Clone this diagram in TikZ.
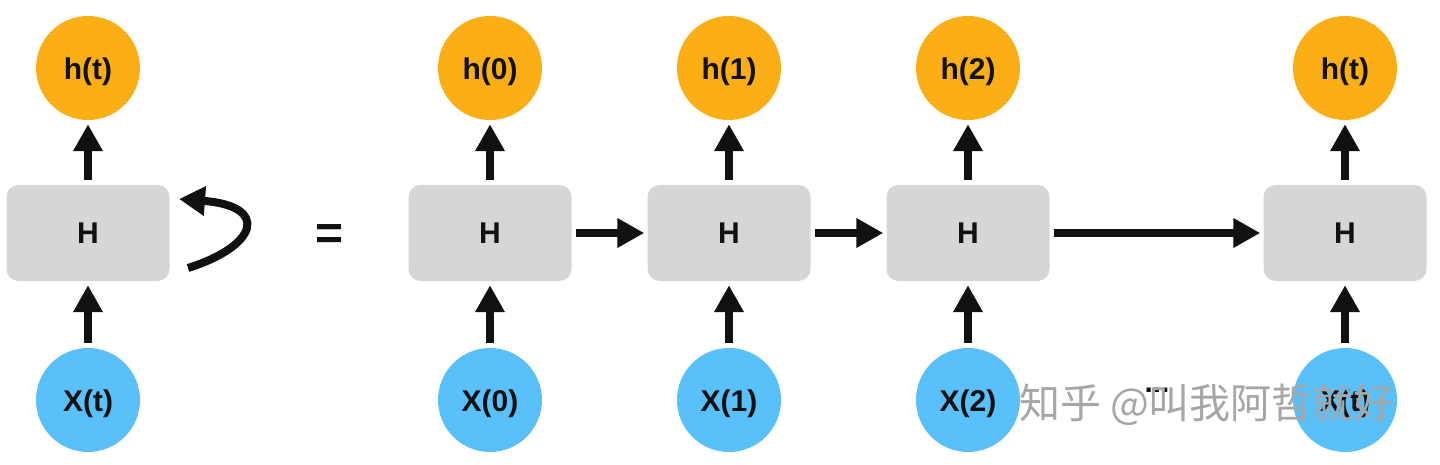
\documentclass[tikz,border=0pt]{standalone}
\usepackage{fontspec}
\setmainfont{Liberation Sans}
\newfontfamily\cjk{Noto Sans CJK SC}
\usetikzlibrary{arrows.meta}
\definecolor{horange}{RGB}{252,174,22}
\definecolor{xblue}{RGB}{90,192,250}
\definecolor{hgray}{RGB}{214,214,214}
\definecolor{ink}{RGB}{17,17,17}
\begin{document}
\begin{tikzpicture}[x=1pt,y=-1pt,
  lbl/.style={text=ink,font=\fontsize{30}{36}\selectfont\bfseries},
  outc/.style={lbl,circle,fill=horange,minimum size=104pt,inner sep=0pt,text height=26pt,text depth=2.4pt},
  inc/.style={lbl,circle,fill=xblue,minimum size=104pt,inner sep=0pt,text height=26pt,text depth=2.4pt},
  hbox/.style={lbl,rounded corners=12pt,fill=hgray,minimum width=163pt,minimum height=96pt,inner sep=0pt},
  arr/.style={draw=ink,line width=8pt,-{Triangle[width=28pt,length=27pt]}},
  uparr/.style={arr,shorten <=5pt,shorten >=4pt},
  rarr/.style={arr,shorten <=4pt,shorten >=3pt},
]
\useasboundingbox (0,0) rectangle (1440,465);
% folded
\node[hbox] (H) at (88,233) {H};
\node[outc] (ht) at (88,68) {h(t)};
\node[inc] (xt) at (88,400) {X(t)};
\draw[uparr] (xt) -- (H);
\draw[uparr] (H) -- (ht);
\coordinate (ls) at (188,268);
\coordinate (le) at (179,199);
\draw[draw=ink,line width=8pt,-{Triangle[width=28pt,length=26pt]}] (ls) .. controls (258,246) and (270,206) .. (le);
\node[text=ink,font=\fontsize{48}{50}\selectfont\bfseries] (eq) at (330,237) {=};
% unrolled
\foreach \n/\x/\t in {0/490/0,1/729/1,2/968/2,3/1345/t}{
  \node[hbox] (H\n) at (\x,233) {H};
  \node[outc] (h\n) at (\x,68) {h(\t)};
  \node[inc] (x\n) at (\x,400) {X(\t)};
  \draw[uparr] (x\n) -- (H\n);
  \draw[uparr] (H\n) -- (h\n);
}
\draw[rarr] (H0) -- (H1);
\draw[rarr] (H1) -- (H2);
\draw[rarr] (H2) -- (H3);
\node[text=ink,font=\fontsize{30}{36}\selectfont\bfseries] (dots) at (1157,390) {...};
\node[text=black!35,font=\cjk\fontsize{41}{44}\selectfont] (wm) at (1207,405) {知乎 @叫我阿哲就好};
\end{tikzpicture}
\end{document}
